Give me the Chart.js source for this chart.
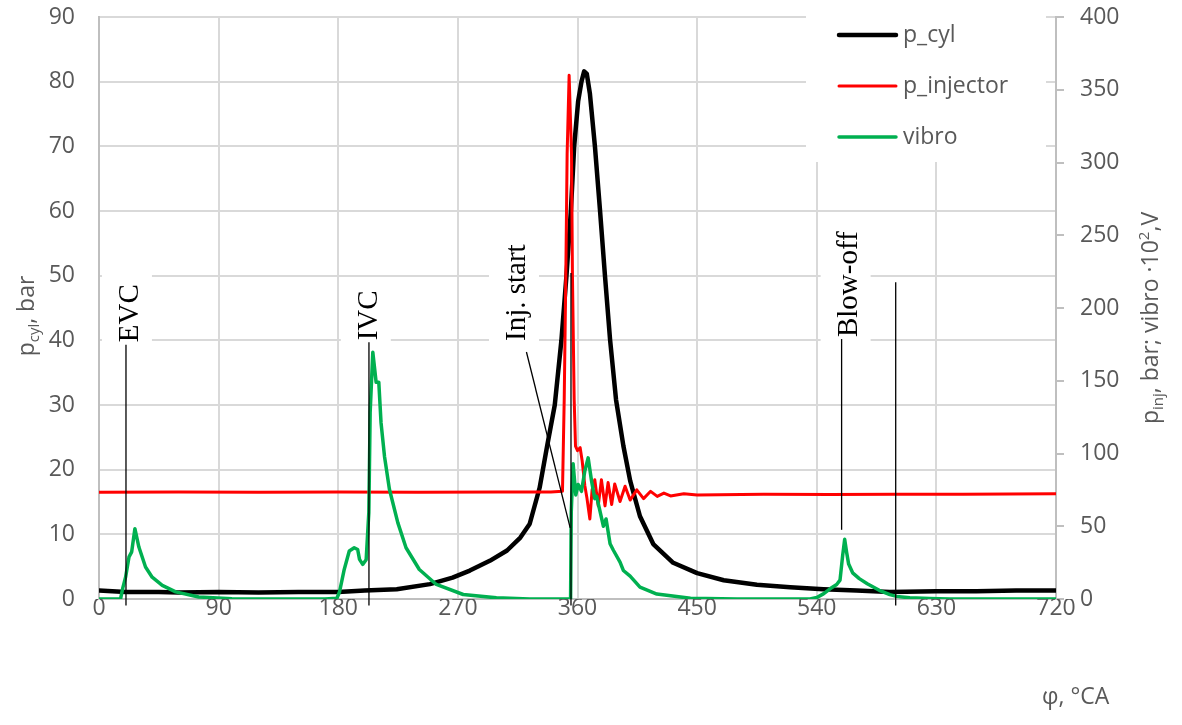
<!DOCTYPE html>
<html>
<head>
<meta charset="utf-8">
<script src="https://cdn.jsdelivr.net/npm/chart.js@4.4.1/dist/chart.umd.min.js"></script>
<style>
  html, body { margin: 0; padding: 0; background: #fff; }
  #wrap { width: 1182px; height: 725px; position: relative; }
</style>
</head>
<body>
<div id="wrap"><canvas id="chart" width="1182" height="725"></canvas></div>
<script>
// crank angle ticks, deg
const angleTicks = [0, 90, 180, 270, 360, 450, 540, 630, 720];

// p_cyl, bar (left axis)
const cylAngle = [0, 10, 20, 30, 45, 60, 90, 120, 150, 180,
  200, 224, 249, 266, 279, 294, 307, 317, 324, 331.5,
  337, 342.9, 347.9, 351.7, 355, 357.5, 360.5, 363, 365, 367,
  369.3, 373.1, 376.9, 380.7, 384.5, 389, 394.5, 399.6, 407, 417,
  432, 450, 470, 495, 520, 545, 570, 595, 630, 660,
  690, 720];
const cylP = [1.3, 1.2, 1.1, 1.1, 1.1, 1.0, 1.1, 1.0, 1.1, 1.1,
  1.3, 1.5, 2.3, 3.3, 4.4, 5.9, 7.5, 9.5, 11.6, 17.2,
  23.5, 30, 40, 50, 60, 70, 77, 80, 81.6, 81.2,
  78.2, 70, 60.2, 49.9, 40.1, 30.8, 23.7, 18.3, 12.8, 8.5,
  5.6, 4.0, 2.9, 2.2, 1.8, 1.5, 1.3, 1.1, 1.2, 1.2,
  1.3, 1.3];

// p_injector, bar (right axis)
const injAngle = [0, 60, 120, 180, 240, 300, 340, 348.7, 350, 351.2,
  352.2, 353.7, 355.5, 356.2, 357.5, 358.5, 360, 362, 363.5, 365.5,
  367, 369.3, 371, 373, 375.6, 378, 380.7, 383, 385.7, 388,
  392, 395.8, 399.6, 404.6, 409.7, 415, 420, 425, 430, 440,
  450, 500, 550, 600, 650, 720];
const injP = [73.3, 73.5, 73.3, 73.6, 73.4, 73.5, 73.6, 74, 137, 222,
  306, 360, 306, 222, 137, 105, 102, 104, 95, 78,
  70, 55, 75, 82, 64, 82, 64, 80, 65, 79,
  67, 77.5, 68, 75, 69, 74, 70.5, 72.8, 70.8, 72.4,
  71.5, 72, 71.8, 72, 72, 72.3];

// vibro, V*100 (right axis)
const vibroAngle = [0, 15, 16.3, 18, 20, 22.6, 24.6, 27, 30, 35,
  40, 47.6, 57.7, 75, 100, 130, 170, 179, 181, 184.5,
  188.3, 192, 194.6, 196, 198.4, 201, 203, 204, 206, 208.5,
  210.5, 212.2, 214.8, 218.5, 224.8, 231, 241, 253.8, 274, 299,
  324, 354.8, 355.3, 356.7, 358.7, 360.5, 363, 365.5, 368, 370.6,
  373, 374.4, 377, 379.5, 381.5, 384.5, 387, 392, 394.5, 399.6,
  407, 419.7, 445, 480, 535, 540, 545, 550, 555, 557.5,
  559.5, 561, 562.5, 564, 567, 572, 578, 587, 595, 600,
  610, 625, 640, 720];
const vibroV = [0, 0, 0.5, 8, 15, 29, 32.4, 48.3, 35.7, 22,
  15, 9.4, 4.9, 1.4, 0.2, 0, 0, 0.5, 5, 20.3,
  33, 35.2, 34, 27.2, 23.8, 27, 59.4, 128, 169.6, 149,
  149, 121, 98, 75.4, 52.5, 35.2, 20.3, 10, 3.1, 0.8,
  0, 0, 60, 93, 71.5, 78.7, 74, 88, 97, 81,
  69, 70.6, 60, 50, 55, 38, 33.5, 25.4, 19.6, 15.7,
  8.2, 3.4, 0.5, 0, 0, 1, 3.5, 7, 10, 13,
  30, 41, 32, 24, 18, 14, 10.5, 6, 3, 1.8,
  0.8, 0.3, 0, 0];

// event marks: rotated label (baseline angle, lower end in bar) and leader lines
const markLabels = ['EVC', 'IVC', 'Inj. start', 'Blow-off'];
const markLabelAngle = [29.3, 209, 320.5, 570];
const markLabelBar = [39.7, 40, 39.9, 40.5];
const leadFromAngle = [20.3, 203.1, 355.1, 321.6, 558.7, 599.4];
const leadFromBar = [39.3, 39.7, 50.4, 38.2, 40.2, 49];
const leadToAngle = [20.3, 203.1, 355.1, 354.5, 558.7, 599.4];
const leadToBar = [-1, -1, -1, 11, 10.7, -1];

const tickFont = { family: '"Open Sans", sans-serif', size: 23 };
const grey = '#595959';

function pts(xs, ys) {
  return xs.map(function (x, i) { return { x: x, y: ys[i] }; });
}

function richWidth(ctx, parts, size) {
  let w = 0;
  parts.forEach(function (p) {
    ctx.font = (p.k ? Math.round(size * 0.65) : size) + 'px "Open Sans"';
    w += ctx.measureText(p.t).width;
  });
  return w;
}

function drawRich(ctx, parts, size, x, y) {
  let cx = x;
  parts.forEach(function (p) {
    ctx.font = (p.k ? Math.round(size * 0.65) : size) + 'px "Open Sans"';
    let dy = 0;
    if (p.k === 'sub') dy = size * 0.22;
    if (p.k === 'sup') dy = -size * 0.4;
    ctx.fillText(p.t, cx, y + dy);
    cx += ctx.measureText(p.t).width;
  });
}

// pin the vertical axes so the plot area spans 17..599
function fitVertical(width) {
  return function (s) {
    s.width = width;
    s.paddingTop = 0;
    s.paddingBottom = 0;
  };
}

const markPlugin = {
  id: 'marks',
  beforeDatasetsDraw(chart) {
    const ctx = chart.ctx;
    const xs = chart.scales.x, ys = chart.scales.y;
    ctx.save();
    ctx.font = '29px "Liberation Serif"';
    markLabels.forEach(function (t, i) {
      const bx = xs.getPixelForValue(markLabelAngle[i]);
      const by = ys.getPixelForValue(markLabelBar[i]);
      const w = ctx.measureText(t).width;
      ctx.fillStyle = '#fff';
      ctx.fillRect(bx - 36, by - w - 12, 50, w + 16);
    });
    ctx.restore();
  },
  afterDatasetsDraw(chart) {
    const ctx = chart.ctx;
    const xs = chart.scales.x, ys = chart.scales.y;
    ctx.save();
    ctx.strokeStyle = '#000';
    ctx.lineWidth = 1.3;
    leadFromAngle.forEach(function (a, i) {
      ctx.beginPath();
      ctx.moveTo(xs.getPixelForValue(a), ys.getPixelForValue(leadFromBar[i]));
      ctx.lineTo(xs.getPixelForValue(leadToAngle[i]), ys.getPixelForValue(leadToBar[i]));
      ctx.stroke();
    });
    ctx.fillStyle = '#000';
    ctx.font = '29px "Liberation Serif"';
    ctx.textAlign = 'left';
    ctx.textBaseline = 'alphabetic';
    markLabels.forEach(function (t, i) {
      ctx.save();
      ctx.translate(xs.getPixelForValue(markLabelAngle[i]), ys.getPixelForValue(markLabelBar[i]));
      ctx.rotate(-Math.PI / 2);
      ctx.fillText(t, 0, 0);
      ctx.restore();
    });
    ctx.restore();
  },
  afterDraw(chart) {
    const ctx = chart.ctx;
    ctx.save();
    // legend
    ctx.fillStyle = '#fff';
    ctx.fillRect(806, 2, 240, 160);
    const rows = [35, 86, 137];
    chart.data.datasets.forEach(function (ds, i) {
      ctx.strokeStyle = ds.borderColor;
      ctx.lineWidth = ds.borderWidth;
      ctx.lineCap = 'round';
      ctx.beginPath();
      ctx.moveTo(839, rows[i]);
      ctx.lineTo(896, rows[i]);
      ctx.stroke();
      ctx.fillStyle = grey;
      ctx.font = '23px "Open Sans"';
      ctx.textBaseline = 'alphabetic';
      ctx.fillText(ds.label, 903, rows[i] + 6.5);
    });

    // axis titles
    ctx.fillStyle = grey;
    ctx.textBaseline = 'alphabetic';
    const left = [{ t: 'p' }, { t: 'cyl', k: 'sub' }, { t: ', bar' }];
    const right = [{ t: 'p' }, { t: 'inj', k: 'sub' }, { t: ', bar; vibro ·10' }, { t: '2', k: 'sup' }, { t: ',V' }];
    let w = richWidth(ctx, left, 23);
    ctx.save();
    ctx.translate(34, 316 + w / 2);
    ctx.rotate(-Math.PI / 2);
    drawRich(ctx, left, 23, 0, 0);
    ctx.restore();
    w = richWidth(ctx, right, 23);
    ctx.save();
    ctx.translate(1158, 318 + w / 2);
    ctx.rotate(-Math.PI / 2);
    drawRich(ctx, right, 23, 0, 0);
    ctx.restore();
    ctx.font = '23px "Open Sans"';
    ctx.textAlign = 'left';
    ctx.fillText('φ, °CA', 1042, 704);
    ctx.restore();
  }
};

new Chart(document.getElementById('chart'), {
  type: 'line',
  data: {
    datasets: [
      { label: 'p_cyl', data: pts(cylAngle, cylP), yAxisID: 'y', borderColor: '#000000', borderWidth: 4.5, order: 3 },
      { label: 'p_injector', data: pts(injAngle, injP), yAxisID: 'y2', borderColor: '#ff0000', borderWidth: 3, order: 2 },
      { label: 'vibro', data: pts(vibroAngle, vibroV), yAxisID: 'y2', borderColor: '#00b050', borderWidth: 3.5, order: 1 }
    ]
  },
  options: {
    responsive: false,
    animation: false,
    elements: {
      point: { radius: 0 },
      line: { tension: 0, borderJoinStyle: 'round', borderCapStyle: 'round' }
    },
    layout: { padding: { top: 17, left: 0, right: 0, bottom: 0 } },
    plugins: { legend: { display: false }, tooltip: { enabled: false } },
    scales: {
      x: {
        type: 'linear', min: 0, max: 720,
        afterBuildTicks: function (s) { s.ticks = angleTicks.map(function (v) { return { value: v }; }); },
        afterFit: function (s) { s.height = 126; },
        grid: { color: '#d9d9d9', lineWidth: 2, drawTicks: false },
        border: { color: '#bfbfbf', width: 2 },
        ticks: { color: grey, font: tickFont, padding: -4, maxRotation: 0 }
      },
      y: {
        position: 'left', min: 0, max: 90,
        ticks: { stepSize: 10, color: grey, font: tickFont, padding: 24 },
        afterFit: fitVertical(99),
        grid: { color: '#d9d9d9', lineWidth: 2, drawTicks: false },
        border: { color: '#bfbfbf', width: 2 }
      },
      y2: {
        position: 'right', min: 0, max: 400,
        ticks: { stepSize: 50, color: grey, font: tickFont, padding: 16 },
        afterFit: fitVertical(126),
        grid: { drawOnChartArea: false, color: '#bfbfbf', lineWidth: 2, tickLength: 8 },
        border: { color: '#bfbfbf', width: 2 }
      }
    }
  },
  plugins: [markPlugin]
});
</script>
</body>
</html>
